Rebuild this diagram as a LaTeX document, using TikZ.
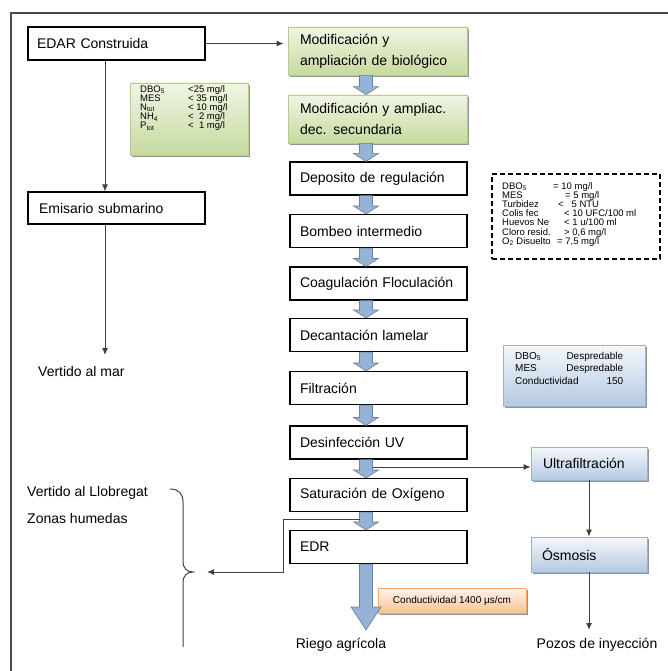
\documentclass[tikz,border=0pt]{standalone}
\usepackage{fontspec}
\setmainfont{Liberation Sans}
\usetikzlibrary{shadows,arrows.meta,calc}
\definecolor{gtop}{HTML}{F0F5E4}
\definecolor{gbot}{HTML}{C6DA9E}
\definecolor{gdraw}{HTML}{B8CB8E}
\definecolor{btop}{HTML}{F5F8FC}
\definecolor{bbot}{HTML}{B4C9E3}
\definecolor{bdraw}{HTML}{95B3D7}
\definecolor{otop}{HTML}{FEF4EC}
\definecolor{obot}{HTML}{FAC294}
\definecolor{odraw}{HTML}{F4A86C}
\definecolor{afill}{HTML}{95B3D7}
\definecolor{adraw}{HTML}{6F7F93}
\newcommand\flowarr[2]{%
  \path[flowarrow] let \p1=(#1.south), \p2=(#2.north) in
   (359.5pt,\y1) -- (372.5pt,\y1) -- (372.5pt,\y2+8pt) -- (378.5pt,\y2+8pt)
   -- (366pt,\y2) -- (353.5pt,\y2+8pt) -- (359.5pt,\y2+8pt) -- cycle;}
\begin{document}
\begin{tikzpicture}[x=1pt,y=-1pt,
  font=\fontsize{14}{21}\selectfont,
  procbox/.style={draw=black, line width=1.1pt, fill=white, inner ysep=0pt, align=left},
  greenbox/.style={draw=gdraw, line width=0.8pt, top color=gtop, bottom color=gbot,
     drop shadow={shadow xshift=2pt, shadow yshift=-2pt, fill=black!60, opacity=0.7},
     inner ysep=0pt, align=left},
  bluebox/.style={draw=bdraw, line width=0.8pt, top color=btop, bottom color=bbot,
     drop shadow={shadow xshift=2pt, shadow yshift=-2pt, fill=black!60, opacity=0.7},
     inner ysep=0pt, align=left},
  orangebox/.style={draw=odraw, line width=0.8pt, top color=otop, bottom color=obot,
     drop shadow={shadow xshift=2pt, shadow yshift=-2pt, fill=black!60, opacity=0.7},
     inner ysep=0pt, align=center},
  paramtext/.style={font=\fontsize{9.5}{9.2}\selectfont, inner sep=0pt, align=left},
  conn/.style={draw=black!75, line width=1pt},
  arr/.style={conn, -{Latex[length=7pt,width=6pt]}},
  flowarrow/.style={fill=afill, draw=adraw, line width=0.6pt},
  plain/.style={inner sep=0pt}
]
\useasboundingbox (0,0) rectangle (668,671);
% frame (only top and left edges visible)
\draw[line width=1.5pt, black!70] (11,671) -- (11,13) -- (668,13);

% left column
\node[procbox, inner xsep=9pt, text width=159pt, minimum height=33pt] (edar) at (116.5,43.5) {EDAR Construida};
\node[procbox, inner xsep=11pt, text width=155pt, minimum height=32pt] (emis) at (116.5,208) {Emisario submarino};
\node[greenbox, minimum width=118pt, minimum height=72pt] (gpar) at (189,119) {};
\node[paramtext, anchor=north west] (gpart) at (140,85) {%
\makebox[48pt][l]{DBO\textsubscript{5}}<25 mg/l\\
\makebox[48pt][l]{MES}< 35 mg/l\\
\makebox[48pt][l]{N\textsubscript{tot}}< 10 mg/l\\
\makebox[48pt][l]{NH\textsubscript{4}}<\ \ 2 mg/l\\
\makebox[48pt][l]{P\textsubscript{tot}}<\ \ 1 mg/l};
\node[plain, anchor=west] (vmar) at (38,371) {Vertido al mar};
\node[plain, anchor=west] (vllob) at (27,493) {Vertido al Llobregat};
\node[plain, anchor=west] (zonas) at (27,518) {Zonas humedas};

% main column
\node[greenbox, inner xsep=12pt, text width=155pt, minimum height=48pt] (mod1) at (377.5,51) {Modificación y\\ampliación de biológico};
\node[greenbox, inner xsep=12pt, text width=155pt, minimum height=48pt] (mod2) at (377.5,119) {Modificación y ampliac.\\dec. secundaria};
\node[procbox, inner xsep=10pt, text width=157pt, minimum height=33pt] (dep) at (378.5,178.5) {Deposito de regulación};
\node[procbox, inner xsep=10pt, text width=157pt, minimum height=33pt] (bomb) at (378.5,231) {Bombeo intermedio};
\node[procbox, inner xsep=10pt, text width=157pt, minimum height=33pt] (coag) at (378.5,283.5) {Coagulación Floculación};
\node[procbox, inner xsep=10pt, text width=157pt, minimum height=33pt] (decan) at (378.5,335) {Decantación lamelar};
\node[procbox, inner xsep=10pt, text width=157pt, minimum height=33pt] (filt) at (378.5,388) {Filtración};
\node[procbox, inner xsep=10pt, text width=157pt, minimum height=33pt] (desinf) at (378.5,442.5) {Desinfección UV};
\node[procbox, inner xsep=10pt, text width=157pt, minimum height=33pt] (sat) at (378.5,495) {Saturación de Oxígeno};
\node[procbox, inner xsep=10pt, text width=157pt, minimum height=33pt] (edr) at (378.5,547) {EDR};
\node[orangebox, minimum width=148pt, minimum height=25pt, font=\fontsize{10}{12}\selectfont] (cond) at (452,600.5) {Conductividad 1400 µs/cm};
\node[plain] (riego) at (341,645) {Riego agrícola};

% right column
\node[draw=black, line width=1.1pt, dash pattern=on 5pt off 3pt, minimum width=168pt, minimum height=85pt] (dash) at (576,216.5) {};
\node[paramtext, anchor=north west] (dasht) at (502,182) {%
\makebox[51pt][l]{DBO\textsubscript{5}}=\ 10 mg/l\\
\makebox[63pt][l]{MES}=\ 5 mg/l\\
\makebox[56pt][l]{Turbidez}<\ \ \ 5 NTU\\
\makebox[62pt][l]{Colis fec}< 10 UFC/100 ml\\
\makebox[62pt][l]{Huevos Ne}<\ 1 u/100 ml\\
\makebox[62pt][l]{Cloro resid.}> 0,6 mg/l\\
\makebox[55pt][l]{O\textsubscript{2} Disuelto}=\ 7,5 mg/l};
\node[bluebox, minimum width=142pt, minimum height=61pt] (bpar) at (574,375.5) {};
\node[plain, font=\fontsize{10}{12.5}\selectfont, align=left, anchor=north west] (bpart) at (515,352) {%
\makebox[108pt]{DBO\textsubscript{5}\hfill Despredable}\\
\makebox[108pt]{MES\hfill Despredable}\\
\makebox[108pt]{Conductividad\hfill 150}};
\node[bluebox, inner xsep=12pt, text width=92pt, minimum height=33pt] (ultra) at (589,463.5) {Ultrafiltración};
\node[bluebox, inner xsep=11pt, text width=94pt, minimum height=35pt] (osm) at (589,554.5) {Ósmosis};
\node[plain] (pozos) at (597,645) {Pozos de inyección};

% block arrows
\flowarr{mod1}{mod2}
\flowarr{mod2}{dep}
\flowarr{dep}{bomb}
\flowarr{bomb}{coag}
\flowarr{coag}{decan}
\flowarr{decan}{filt}
\flowarr{filt}{desinf}
\flowarr{desinf}{sat}
\flowarr{sat}{edr}
\path[flowarrow] let \p1=(edr.south) in
  (359.5pt,\y1) -- (372.5pt,\y1) -- (372.5pt,-607pt) -- (381pt,-607pt)
  -- (366pt,-630pt) -- (351pt,-607pt) -- (359.5pt,-607pt) -- cycle;

% connectors
\coordinate (vmartip) at (105,355);
\coordinate (uvtap) at (372.5,467);
\coordinate (ret0) at (359.5,519);
\coordinate (retk) at (283,519);
\coordinate (rett) at (207,572);
\coordinate (pozostip) at (589,630);
\draw[arr, shorten >=4pt] (edar.east) -- (mod1.west |- edar.east);
\draw[arr] ([xshift=-11.5pt]edar.south) -- ([xshift=-11.5pt]emis.north);
\draw[arr] ([xshift=-11.5pt]emis.south) -- (vmartip);
\draw[arr] (uvtap) -- (uvtap -| ultra.west);
\draw[arr] (ultra.south) -- (osm.north);
\draw[arr] (osm.south) -- (pozostip);
\draw[arr] (ret0) -- (retk) |- (rett);

% brace
\draw[conn] (170,489) .. controls (179,489) and (183,494) .. (183,502) -- (183,562)
  .. controls (183,568) and (187,572) .. (193,572)
  .. controls (187,572) and (183,576) .. (183,582) -- (183,647);
\end{tikzpicture}
\end{document}
